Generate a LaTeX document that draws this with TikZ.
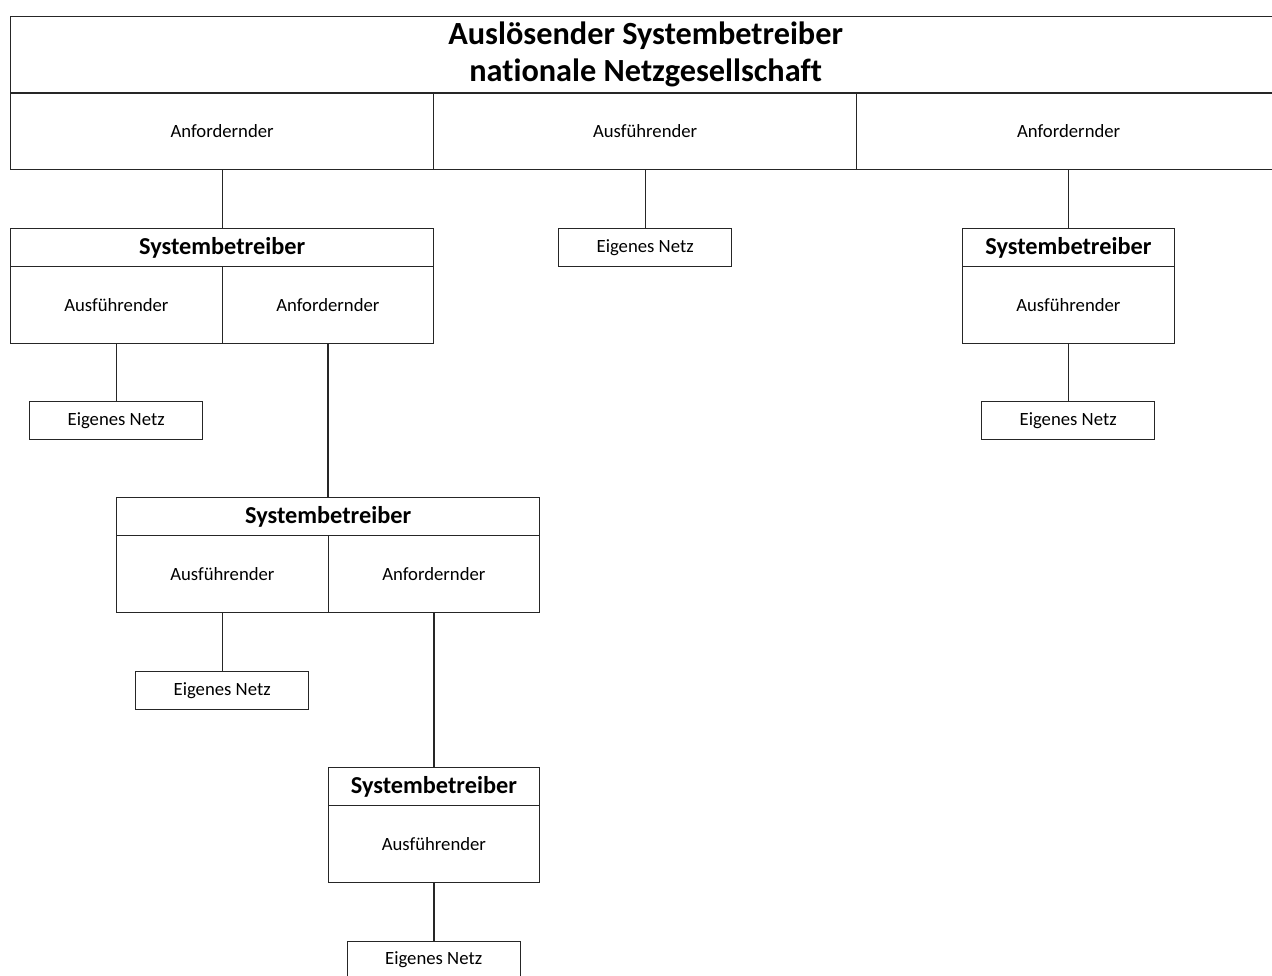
\documentclass[tikz,border=0pt]{standalone}
\usepackage{fontspec}
\setmainfont{Carlito}[Ligatures=NoCommon]
\begin{document}
\begin{tikzpicture}[x=1pt,y=-1pt,
  box/.style={draw=black!85, line width=1.3pt, rectangle, inner sep=0pt, anchor=north west,
    font=\fontsize{18.7}{22}\selectfont, align=center},
  titlebox/.style={box, font=\fontsize{32.3}{37}\selectfont\bfseries},
  headbox/.style={box, minimum height=38pt, font=\fontsize{24.3}{28}\selectfont\bfseries},
  widebox/.style={minimum width=423pt},
  halfbox/.style={minimum width=211.5pt},
  cellbox/.style={box, minimum height=77pt},
  netbox/.style={box, minimum width=173pt, minimum height=38pt},
  link/.style={draw=black!85, line width=1.3pt}]
\useasboundingbox (0,0) rectangle (1272,976);
\clip (0,0) rectangle (1272,976);
% top
\node[titlebox, minimum width=1270pt, minimum height=76.5pt] (top) at (10,16)
  {Auslösender Systembetreiber\\nationale Netzgesellschaft};
\node[box, widebox, minimum height=76.5pt] (t1) at (10,92.5) {Anfordernder};
\node[box, widebox, minimum height=76.5pt] (t2) at (433,92.5) {Ausführender};
\node[box, minimum width=424pt, minimum height=76.5pt] (t3) at (856,92.5) {Anfordernder};
% middle net
\node[netbox] (nm) at (558,228) {Eigenes Netz};
% left system operator 1
\node[headbox, widebox] (s1) at (10,228) {Systembetreiber};
\node[cellbox, halfbox] (s1a) at (10,266) {Ausführender};
\node[cellbox, halfbox] (s1b) at (221.5,266) {Anfordernder};
\node[netbox] (n1) at (29,401) {Eigenes Netz};
% right system operator
\node[headbox, halfbox] (sr) at (962,228) {Systembetreiber};
\node[cellbox, halfbox] (sra) at (962,266) {Ausführender};
\node[netbox] (nr) at (981,401) {Eigenes Netz};
% system operator 2
\node[headbox, widebox] (s2) at (116,497) {Systembetreiber};
\node[cellbox, halfbox] (s2a) at (116,535) {Ausführender};
\node[cellbox, halfbox] (s2b) at (327.5,535) {Anfordernder};
\node[netbox] (n2) at (135,671) {Eigenes Netz};
% system operator 3
\node[headbox, halfbox] (s3) at (327.5,767) {Systembetreiber};
\node[cellbox, halfbox] (s3a) at (327.5,805) {Ausführender};
\node[netbox] (n3) at (346.5,940.5) {Eigenes Netz};
% connectors
\draw[link] (t1.south) -- (t1.south |- s1.north);
\draw[link] (t2.south) -- (t2.south |- nm.north);
\draw[link] (t3.south) -- (t3.south |- sr.north);
\draw[link] (s1a.south) -- (s1a.south |- n1.north);
\draw[link] (s1b.south) -- (s1b.south |- s2.north);
\draw[link] (sra.south) -- (sra.south |- nr.north);
\draw[link] (s2a.south) -- (s2a.south |- n2.north);
\draw[link] (s2b.south) -- (s2b.south |- s3.north);
\draw[link] (s3a.south) -- (s3a.south |- n3.north);
\end{tikzpicture}
\end{document}
